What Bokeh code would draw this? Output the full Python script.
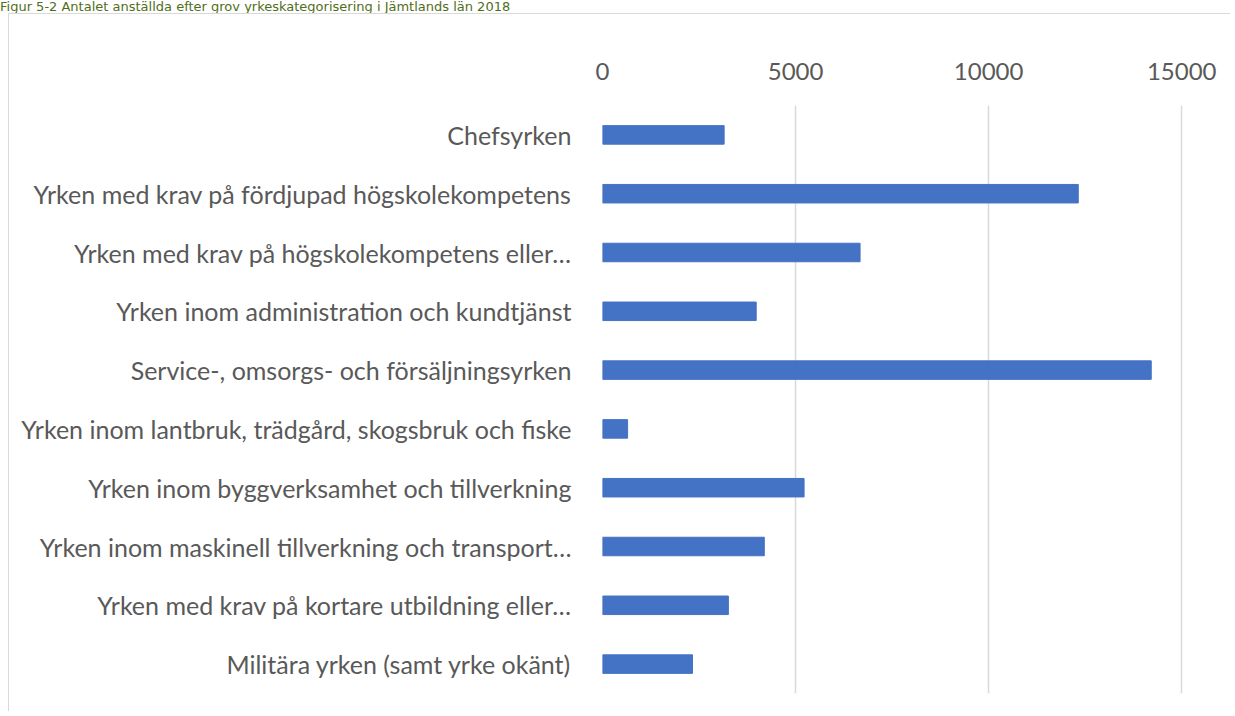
from bokeh.plotting import figure
from bokeh.models import FactorRange, Range1d, FixedTicker, Div
from bokeh.layouts import column
from bokeh.embed import file_html
from bokeh.resources import INLINE

categories = [
    "Chefsyrken",
    "Yrken med krav på fördjupad högskolekompetens",
    "Yrken med krav på högskolekompetens eller…",
    "Yrken inom administration och kundtjänst",
    "Service-, omsorgs- och försäljningsyrken",
    "Yrken inom lantbruk, trädgård, skogsbruk och fiske",
    "Yrken inom byggverksamhet och tillverkning",
    "Yrken inom maskinell tillverkning och transport…",
    "Yrken med krav på kortare utbildning eller…",
    "Militära yrken (samt yrke okänt)",
]
values = [3150, 12320, 6670, 3980, 14210, 650, 5220, 4190, 3260, 2330]
x_ticks = [0, 5000, 10000, 15000]
title_text = "Figur 5-2 Antalet anställda efter grov yrkeskategorisering i Jämtlands län 2018"

FONT = "Lato"
TXT = "#595959"
W, H = 1222, 698

title = Div(text=title_text, width=1000, height=13, margin=(0, 0, 0, 0),
            styles={"font-family": "DejaVu Sans", "font-size": "13px",
                    "color": "#4F6E1A", "line-height": "13px", "white-space": "nowrap"})

p = figure(
    width=W, height=H,
    y_range=FactorRange(factors=list(reversed(categories)), range_padding=0),
    x_range=Range1d(0, 15900),
    x_axis_location="above",
    output_backend="svg", toolbar_location=None,
    min_border_left=593, min_border_right=15, min_border_top=91, min_border_bottom=19,
    margin=(0, 0, 0, 8),
    styles={"border-left": "1.5px solid #d9d9d9", "border-top": "1.5px solid #d9d9d9"},
)

p.hbar(y=categories, right=values, height=0.315, left=0,
       fill_color="#4472C4", line_color="#4472C4")

p.xaxis.ticker = FixedTicker(ticks=x_ticks)
for ax in (p.xaxis[0], p.yaxis[0]):
    ax.axis_line_color = None
    ax.major_tick_line_color = None
    ax.minor_tick_line_color = None
    ax.major_label_text_font = FONT
    ax.major_label_text_color = TXT
p.yaxis.major_label_text_font_size = "25px"
p.xaxis.major_label_text_font_size = "24px"
p.xaxis.major_label_standoff = 20
p.yaxis.major_label_standoff = 25

p.xgrid.grid_line_color = "#d9d9d9"
p.xgrid.grid_line_width = 1.5
p.ygrid.grid_line_color = None
p.outline_line_color = None

layout = column(title, p, spacing=0)
open("out.html", "w").write(file_html(layout, INLINE))
